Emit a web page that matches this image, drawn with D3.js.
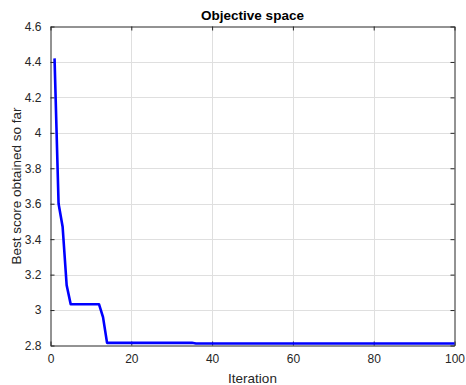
<!DOCTYPE html>
<html>
<head>
<meta charset="utf-8">
<script src="https://cdn.jsdelivr.net/npm/d3@7"></script>
<style>
  html, body { margin: 0; padding: 0; background: #fff; }
  text { font-family: "Liberation Sans", Arial, sans-serif; }
</style>
</head>
<body>
<div id="chart"></div>
<script>
// convergence curve, one value per iteration (1..100)
const bestScore = [
  4.42, 3.60, 3.47, 3.14, 3.033, 3.033, 3.033, 3.033, 3.033, 3.033,
  3.033, 3.033, 2.96, 2.815, 2.815, 2.815, 2.815, 2.815, 2.815, 2.815,
  2.815, 2.815, 2.815, 2.815, 2.815, 2.815, 2.815, 2.815, 2.815, 2.815,
  2.815, 2.815, 2.815, 2.815, 2.815, 2.811, 2.811, 2.811, 2.811, 2.811,
  2.811, 2.811, 2.811, 2.811, 2.811, 2.811, 2.811, 2.811, 2.811, 2.811,
  2.811, 2.811, 2.811, 2.811, 2.811, 2.811, 2.811, 2.811, 2.811, 2.811,
  2.811, 2.811, 2.811, 2.811, 2.811, 2.811, 2.811, 2.811, 2.811, 2.811,
  2.811, 2.811, 2.811, 2.811, 2.811, 2.811, 2.811, 2.811, 2.811, 2.811,
  2.811, 2.811, 2.811, 2.811, 2.811, 2.811, 2.811, 2.811, 2.811, 2.811,
  2.811, 2.811, 2.811, 2.811, 2.811, 2.811, 2.811, 2.811, 2.811, 2.811
];
const xTicks = [0, 20, 40, 60, 80, 100];
const yTicks = [2.8, 3, 3.2, 3.4, 3.6, 3.8, 4, 4.2, 4.4, 4.6];

const W = 466, H = 385;
const m = { left: 50.5, right: 11.5, top: 26.5, bottom: 39.5 };

const svg = d3.select("#chart").append("svg")
  .attr("width", W).attr("height", H);

const x = d3.scaleLinear().domain([0, 100]).range([m.left, W - m.right]);
const y = d3.scaleLinear().domain([2.8, 4.6]).range([H - m.bottom, m.top]);

// grid
const grid = svg.append("g").attr("stroke", "#dfdfdf").attr("stroke-width", 1);
grid.selectAll("line.gx").data(xTicks.slice(1, -1)).join("line")
  .attr("x1", d => Math.round(x(d)) + 0.5).attr("x2", d => Math.round(x(d)) + 0.5)
  .attr("y1", y(4.6)).attr("y2", y(2.8));
grid.selectAll("line.gy").data(yTicks.slice(1, -1)).join("line")
  .attr("y1", d => Math.round(y(d)) + 0.5).attr("y2", d => Math.round(y(d)) + 0.5)
  .attr("x1", x(0)).attr("x2", x(100));

// axes, MATLAB style: inward ticks on all four sides
const fmt = d => String(d);
const axisStyle = g => {
  g.select(".domain").attr("stroke", "#262626");
  g.selectAll(".tick line").attr("stroke", "#262626");
  g.selectAll(".tick text").attr("fill", "#262626")
    .attr("font-size", "12px").attr("font-family", "Liberation Sans, Arial, sans-serif");
};

svg.append("g").attr("transform", `translate(0,${y(2.8)})`)
  .call(d3.axisBottom(x).tickValues(xTicks).tickFormat(fmt).tickSizeInner(-4).tickSizeOuter(0).tickPadding(9))
  .call(axisStyle);
svg.append("g").attr("transform", `translate(0,${y(4.6)})`)
  .call(d3.axisTop(x).tickValues(xTicks).tickFormat("").tickSizeInner(-4).tickSizeOuter(0))
  .call(axisStyle);
svg.append("g").attr("transform", `translate(${x(0)},0)`)
  .call(d3.axisLeft(y).tickValues(yTicks).tickFormat(fmt).tickSizeInner(-4).tickSizeOuter(0).tickPadding(9))
  .call(axisStyle);
svg.append("g").attr("transform", `translate(${x(100)},0)`)
  .call(d3.axisRight(y).tickValues(yTicks).tickFormat("").tickSizeInner(-4).tickSizeOuter(0))
  .call(axisStyle);

// curve
const line = d3.line()
  .x((d, i) => x(i + 1))
  .y(d => y(d));
svg.append("path")
  .datum(bestScore)
  .attr("fill", "none")
  .attr("stroke", "#0000ff")
  .attr("stroke-width", 2.6)
  .attr("stroke-linejoin", "round")
  .attr("d", line);

// labels
svg.append("text")
  .attr("x", (x(0) + x(100)) / 2).attr("y", 20)
  .attr("text-anchor", "middle")
  .attr("font-size", "13.5px").attr("font-weight", "bold").attr("fill", "#000")
  .text("Objective space");

svg.append("text")
  .attr("x", (x(0) + x(100)) / 2).attr("y", 383)
  .attr("text-anchor", "middle")
  .attr("font-size", "13.5px").attr("fill", "#262626")
  .text("Iteration");

svg.append("text")
  .attr("transform", `translate(21,${(y(2.8) + y(4.6)) / 2}) rotate(-90)`)
  .attr("text-anchor", "middle")
  .attr("font-size", "13.5px").attr("fill", "#262626")
  .text("Best score obtained so far");
</script>
</body>
</html>
